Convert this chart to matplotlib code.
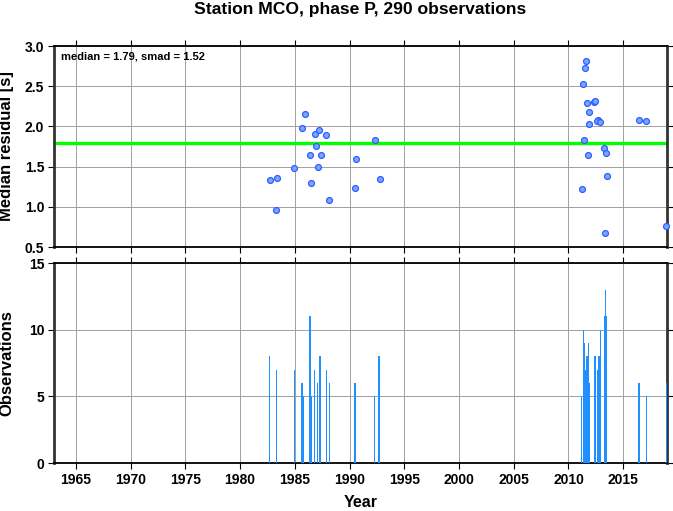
import matplotlib
matplotlib.use("Agg")
import matplotlib.pyplot as plt
import numpy as np

plt.rcParams['font.family'] = ['Liberation Sans', 'DejaVu Sans']
plt.rcParams['font.weight'] = 'bold'

# Top panel: median residuals per event
res_years = [1985.9, 1985.67, 1986.8, 1987.17, 1987.87, 1992.3, 1986.9, 1986.4, 1987.35,
             1990.55, 1984.97, 1987.1, 1982.7, 1983.35, 1986.5, 1992.75, 1990.46, 1988.1, 1983.3,
             2011.6, 2011.5, 2011.35, 2011.7, 2012.3, 2012.38, 2011.9, 2011.87, 2012.7, 2012.65,
             2012.9, 2016.45, 2017.1, 2011.4, 2013.25, 2013.4, 2011.8, 2013.5, 2011.25, 2013.35, 2018.9]
res_values = [2.16, 1.98, 1.91, 1.95, 1.89, 1.83, 1.75, 1.65, 1.645,
              1.59, 1.48, 1.49, 1.337, 1.36, 1.30, 1.34, 1.24, 1.09, 0.965,
              2.81, 2.73, 2.53, 2.295, 2.30, 2.32, 2.18, 2.03, 2.08, 2.07,
              2.05, 2.075, 2.07, 1.83, 1.73, 1.67, 1.64, 1.38, 1.22, 0.68, 0.76]
median_val = 1.79
smad_val = 1.52

# Bottom panel: observations per event
obs_years = [1982.7, 1983.3, 1983.35, 1984.95, 1985.67, 1985.8, 1986.4, 1986.5, 1986.8,
             1987.1, 1987.26, 1987.35, 1987.87, 1988.15, 1990.43, 1990.5, 1992.3, 1992.7,
             2011.2, 2011.35, 2011.42, 2011.6, 2011.7, 2011.8, 2011.87, 2011.93, 2012.35, 2012.42,
             2012.7, 2012.8, 2012.9, 2013.3, 2013.4, 2013.5, 2013.45, 2016.45, 2017.1, 2018.95]
obs_counts = [8, 7, 6, 7, 6, 5, 11, 5, 7,
              6, 8, 8, 7, 6, 6, 6, 5, 8,
              5, 10, 9, 7, 8, 9, 6, 6, 8, 8,
              7, 8, 10, 11, 13, 11, 5, 6, 5, 6]

title = "Station MCO, phase P, 290 observations"
xticks = [1965, 1970, 1975, 1980, 1985, 1990, 1995, 2000, 2005, 2010, 2015]

W, H = 673, 511
fig = plt.figure(figsize=(W/100, H/100), dpi=100)
ax1 = fig.add_axes([54/W, 1-247/H, (667-54)/W, (247-46)/H])
ax2 = fig.add_axes([54/W, 1-463/H, (667-54)/W, (463-263)/H])

for ax in (ax1, ax2):
    ax.set_xlim(1963, 2019)
    ax.set_xticks(xticks)
    ax.grid(True, color='#a0a0a0', linewidth=0.7)
    ax.set_axisbelow(True)
    ax.tick_params(direction='out', length=4, width=0.8, top=True, right=True,
                   labelsize=10, colors='black', pad=3)
    for s in ('left', 'right'):
        ax.spines[s].set_linewidth(2.0)
        ax.spines[s].set_color('#333333')
    for s in ('top', 'bottom'):
        ax.spines[s].set_linewidth(1.3)
        ax.spines[s].set_color('black')

ax1.set_ylim(0.5, 3.0)
ax1.set_yticks([0.5, 1.0, 1.5, 2.0, 2.5, 3.0])
ax1.set_yticklabels(['0.5', '1.0', '1.5', '2.0', '2.5', '3.0'])
ax1.tick_params(labelbottom=False)
ax1.axhline(median_val, color='#00ff00', linewidth=2.4, zorder=2)
ax1.scatter(res_years, res_values, s=18, facecolor='#7aa6ff', edgecolor='#2f5cff',
            linewidth=0.9, zorder=3, clip_on=False)
ax1.text(0.012, 0.975, f"median = {median_val:.2f}, smad = {smad_val:.2f}",
         transform=ax1.transAxes, ha='left', va='top', fontsize=8, fontweight='bold')
ax1.set_ylabel("Median residual [s]", fontsize=12, fontweight='bold')
fig.text(360.5/W, 1-14/H, title, ha='center', va='baseline', fontsize=12.6, fontweight='bold')

ax2.set_ylim(0, 15)
ax2.set_yticks([0, 5, 10, 15])
ax2.bar(obs_years, obs_counts, width=0.12, color='#1e90ff', linewidth=0, zorder=3)
ax2.set_ylabel("Observations", fontsize=12, fontweight='bold')
ax2.set_xlabel("Year", fontsize=11.5, fontweight='bold', labelpad=6)
for ax in (ax1, ax2):
    for lab in ax.get_xticklabels() + ax.get_yticklabels():
        lab.set_fontweight('bold')

fig.canvas.draw()
ax1.yaxis.set_label_coords(-40/613, 0.5)
ax2.yaxis.set_label_coords(-40/613, 0.5)

fig.savefig("out.png", dpi=100)
